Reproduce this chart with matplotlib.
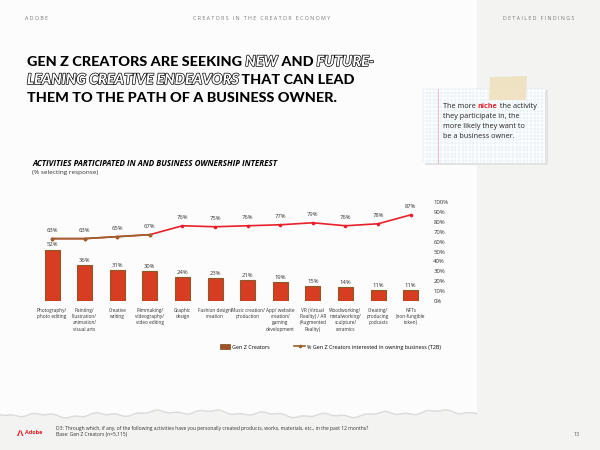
import numpy as np
import matplotlib
matplotlib.use("Agg")
import matplotlib.pyplot as plt
from matplotlib.patches import Rectangle, Polygon
from matplotlib.lines import Line2D
import matplotlib.patheffects as pe
from matplotlib.ticker import PercentFormatter

categories = ["Photography/\nphoto editing", "Painting/\nillustration/\nanimation/\nvisual arts",
              "Creative\nwriting", "Filmmaking/\nvideography/\nvideo editing", "Graphic\ndesign",
              "Fashion design/\ncreation", "Music creation/\nproduction",
              "App/ website\ncreation/\ngaming\ndevelopment", "VR (Virtual\nReality) / AR\n(Augmented\nReality)",
              "Woodworking/\nmetalworking/\nsculpture/\nceramics", "Creating/\nproducing\npodcasts",
              "NFTs\n(non-fungible\ntoken)"]
participation = [52, 36, 31, 30, 24, 23, 21, 19, 15, 14, 11, 11]
business_interest = [63, 63, 65, 67, 76, 75, 76, 77, 79, 76, 78, 87]
series_names = ["Gen Z Creators", "% Gen Z Creators interested in owning business (T2B)"]

FONT = "Open Sans"
W, H = 600, 450
fig = plt.figure(figsize=(6, 4.5), dpi=100)
fig.patch.set_facecolor("#f3f3f2")

def P(x, y):
    return (x / W, 1 - y / H)

# white paper panel with torn bottom edge
xs = np.linspace(0, 477, 120)
edge = 413 + 1.6 * np.sin(xs / 9.0) + 1.0 * np.sin(xs / 3.3 + 1.0) + 2.0 * np.sin(xs / 41.0)
pts = [P(0, 0), P(477, 0)] + [P(x, y) for x, y in zip(xs[::-1], edge[::-1])]
fig.patches.append(Polygon([P(x, y + 1.5) for x, y in zip(xs, edge)] + [P(477, 405), P(0, 405)],
                           closed=True, transform=fig.transFigure, facecolor="#dcdcdc", edgecolor="none", zorder=-2))
fig.patches.append(Polygon(pts, closed=True, transform=fig.transFigure, facecolor="#fcfcfc", edgecolor="none", zorder=-1))

# header
hdr = dict(fontsize=3.8, color="#777777", family=FONT, va="center")
fig.text(*P(25, 18), "A D O B E", ha="left", **hdr)
fig.text(*P(262, 18), "C R E A T O R S   I N   T H E   C R E A T O R   E C O N O M Y", ha="center", **hdr)
fig.text(*P(574, 18), "D E T A I L E D   F I N D I N G S", ha="right", **hdr)

renderer = fig.canvas.get_renderer()

def seq_text(x, y, parts, **common):
    """place text pieces one after another"""
    cx = x
    for s, kw in parts:
        opts = dict(common)
        opts.update(kw)
        t = fig.text(*P(cx, y), s, ha="left", va="center", **opts)
        bb = t.get_window_extent(renderer=renderer)
        cx = bb.x1
    return cx

title_kw = dict(fontsize=10.4, family="Lato", weight="black", color="black")
outline = dict(color="white", style="italic",
               path_effects=[pe.withStroke(linewidth=1.0, foreground="black")])
seq_text(27, 62, [("GEN Z CREATORS ARE SEEKING ", {}), ("NEW", outline), (" AND ", {}), ("FUTURE-", outline)], **title_kw)
seq_text(27, 80, [("LEANING CREATIVE ENDEAVORS", outline), (" THAT CAN LEAD", {})], **title_kw)
seq_text(27, 98, [("THEM TO THE PATH OF A BUSINESS OWNER.", {})], **title_kw)

# note card
fig.patches.append(Rectangle(P(425, 165), 123 / W, 75 / H, transform=fig.transFigure,
                             facecolor="#e2e2e2", edgecolor="none", zorder=1))
fig.patches.append(Rectangle(P(423, 163), 122 / W, 74 / H, transform=fig.transFigure,
                             facecolor="white", edgecolor="none", zorder=1))
for gx in np.arange(423, 545, 3.6):
    fig.lines.append(Line2D([gx / W, gx / W], [1 - 89 / H, 1 - 163 / H], transform=fig.transFigure,
                            color="#d3e3ee", lw=0.3, zorder=1.5))
for gy in np.arange(89, 163, 3.6):
    fig.lines.append(Line2D([423 / W, 545 / W], [1 - gy / H, 1 - gy / H], transform=fig.transFigure,
                            color="#d3e3ee", lw=0.3, zorder=1.5))
fig.lines.append(Line2D([438 / W, 438 / W], [1 - 89 / H, 1 - 163 / H], transform=fig.transFigure,
                        color="#e9a0a6", lw=0.5, zorder=1.6))
tape = Polygon([P(490, 77), P(527, 76), P(526, 100), P(489, 100)], closed=True, transform=fig.transFigure,
               facecolor="#efe2c0", edgecolor="none", alpha=0.95, zorder=2)
fig.patches.append(tape)
note_kw = dict(fontsize=5.2, family=FONT, color="#222222", zorder=3)
seq_text(443, 106, [("The more ", {}), ("niche", dict(color="#e8202a", weight="bold")), (" the activity", {})], **note_kw)
seq_text(443, 116, [("they participate in, the", {})], **note_kw)
seq_text(443, 126, [("more likely they want to", {})], **note_kw)
seq_text(443, 136, [("be a business owner.", {})], **note_kw)

# chart titles
fig.text(*P(32, 163), "ACTIVITIES PARTICIPATED IN AND BUSINESS OWNERSHIP INTEREST", family=FONT,
         weight="bold", style="italic", fontsize=5.75, va="center", ha="left", color="black")
fig.text(*P(32, 173), "(% selecting response)", family=FONT, fontsize=4.6, va="center", ha="left", color="#333333")

# chart
ax = fig.add_axes([35.7 / W, 1 - 301 / H, (427 - 35.7) / W, 99 / H])
ax.set_zorder(5)
ax.set_facecolor("none")
x = np.arange(len(categories))
bar_vals = np.array(participation) / 100
line_vals = np.array(business_interest) / 100
bars = ax.bar(x, bar_vals, width=0.46, color="#d63d22", edgecolor="#8a5a28", linewidth=0.8, zorder=2)
ax.plot(x, line_vals, color="#e8202a", lw=1.2, marker="o", ms=1.6, zorder=3)
ax.plot(x[:4], line_vals[:4], color="#98622c", lw=1.2, marker="o", ms=1.6, zorder=3.5)
for i, v in enumerate(participation):
    ax.annotate(f"{v}%", (i, v / 100), xytext=(0, 1.5), textcoords="offset points", ha="center", va="bottom",
                fontsize=4.2, family=FONT, color="#333333", zorder=4)
for i, v in enumerate(business_interest):
    ax.annotate(f"{v}%", (i, v / 100), xytext=(0, 4), textcoords="offset points", ha="center", va="bottom",
                fontsize=4.2, family=FONT, color="#333333", zorder=4)
ax.set_xlim(-0.5, len(categories) - 0.5)
ax.set_ylim(0, 1)
ax.set_yticks(np.arange(0, 1.01, 0.1))
ax.yaxis.set_major_formatter(PercentFormatter(1.0, decimals=0))
ax.yaxis.tick_right()
ax.tick_params(axis="y", length=0, pad=4.5, labelsize=4.3, labelcolor="#333333")
ax.set_xticks(x)
ax.set_xticklabels(categories, fontsize=3.45, family=FONT, color="#333333", linespacing=1.3, va="top")
ax.tick_params(axis="x", length=0, pad=5)
for lab in ax.get_yticklabels():
    lab.set_family(FONT)
for s in ax.spines.values():
    s.set_visible(False)

handles = [Rectangle((0, 0), 1, 1, facecolor="#a0522d", edgecolor="#8a5a28", lw=0.6),
           Line2D([], [], color="#98622c", lw=1.2, marker="o", ms=1.6)]
fig.legend(handles, series_names, loc="center", bbox_to_anchor=P(330, 347), ncol=2, frameon=False,
           prop=dict(family=FONT, size=3.9), handlelength=2.0, handleheight=0.9, columnspacing=4.5,
           handletextpad=0.3)

# footer
fig.patches.append(Polygon([P(17, 436), P(19.5, 430), P(20.5, 430), P(18.5, 436)], closed=True,
                           transform=fig.transFigure, facecolor="#e8202a", edgecolor="none"))
fig.patches.append(Polygon([P(21, 430), P(23.5, 436), P(22, 436), P(20.5, 431.5)], closed=True,
                           transform=fig.transFigure, facecolor="#e8202a", edgecolor="none"))
fig.text(*P(25, 433), "Adobe", fontsize=4.0, family=FONT, weight="bold", color="#e8202a", va="center", ha="left")
fig.text(*P(56, 428.5), "D3: Through which, if any, of the following activities have you personally created products, works, materials, etc., in the past 12 months?",
         fontsize=3.6, family=FONT, color="#333333", va="center", ha="left")
fig.text(*P(56, 434.5), "Base: Gen Z Creators (n=5,115)", fontsize=3.6, family=FONT, color="#333333",
         va="center", ha="left")
fig.text(*P(580, 434), "13", fontsize=3.8, family=FONT, color="#555555", va="center", ha="right")

fig.savefig("out.png", dpi=100, facecolor=fig.get_facecolor())
